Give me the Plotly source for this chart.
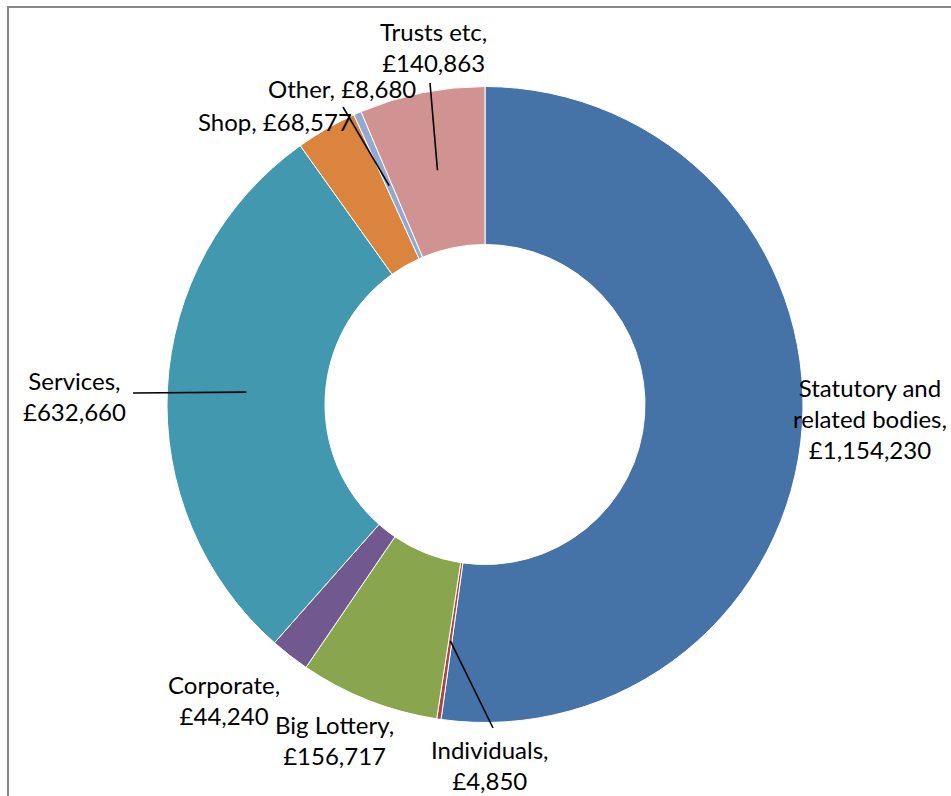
import math
import plotly.graph_objects as go

# ---- data ----
categories = ["Statutory and related bodies", "Individuals", "Big Lottery", "Corporate",
              "Services", "Shop", "Other", "Trusts etc"]
values = [1154230, 4850, 156717, 44240, 632660, 68577, 8680, 140863]
label_text = ["Statutory and<br>related bodies,<br>£1,154,230", "Individuals,<br>£4,850",
              "Big Lottery,<br>£156,717", "Corporate,<br>£44,240", "Services,<br>£632,660",
              "Shop, £68,577", "Other, £8,680", "Trusts etc,<br>£140,863"]
colors = ["#4572A7", "#AA4643", "#89A54E", "#71588F", "#4198AF", "#DB843D", "#93A9CF", "#D19392"]

# ---- layout / style ----
W, H = 951, 796
CX, CY, R_OUT, R_IN = 485, 404.5, 318, 160
# label centre positions (px) and optional leader-line outer end (px)
label_pos = {
    "Statutory and related bodies": (870, 418, None),
    "Individuals": (490, 765, (493, 728)),
    "Big Lottery": (334, 740, None),
    "Corporate": (224, 700, None),
    "Services": (74, 396, (133, 393)),
    "Shop": (275, 122, None),
    "Other": (342, 88, (343, 107)),
    "Trusts etc": (433, 47, (430, 83)),
}
FONT = "Lato"
FS = 24

def px(x):
    return x / W

def py(y):
    return 1 - y / H

fig = go.Figure(go.Pie(
    labels=categories, values=values, sort=False, direction="clockwise", rotation=0,
    hole=R_IN / R_OUT, textinfo="none", hoverinfo="label+value",
    marker=dict(colors=colors, line=dict(color="white", width=1)),
    domain=dict(x=[px(CX - R_OUT), px(CX + R_OUT)], y=[py(CY + R_OUT), py(CY - R_OUT)]),
    showlegend=False,
))

total = sum(values)
cum = 0
shapes = []
annotations = []
for cat, v, txt in zip(categories, values, label_text):
    mid = (cum + v / 2) / total * 2 * math.pi
    cum += v
    lx, ly, end = label_pos[cat]
    annotations.append(dict(x=px(lx), y=py(ly), xref="paper", yref="paper", text=txt,
                            showarrow=False, align="center", xanchor="center", yanchor="middle",
                            font=dict(family=FONT, size=FS, color="black")))
    if end is not None:
        rm = (R_OUT + R_IN) / 2
        ix = CX + rm * math.sin(mid)
        iy = CY - rm * math.cos(mid)
        shapes.append(dict(type="line", xref="paper", yref="paper",
                           x0=px(ix), y0=py(iy), x1=px(end[0]), y1=py(end[1]),
                           line=dict(color="black", width=1.6)))

# frame border (top and left visible)
shapes.append(dict(type="line", xref="paper", yref="paper", x0=px(7), y0=py(7), x1=px(W + 5), y1=py(7),
                   line=dict(color="#878787", width=2)))
shapes.append(dict(type="line", xref="paper", yref="paper", x0=px(8), y0=py(6), x1=px(8), y1=py(H + 5),
                   line=dict(color="#878787", width=2)))

fig.update_layout(width=W, height=H, margin=dict(l=0, r=0, t=0, b=0),
                  paper_bgcolor="white", plot_bgcolor="white",
                  shapes=shapes, annotations=annotations)
fig.write_html("out.html")
